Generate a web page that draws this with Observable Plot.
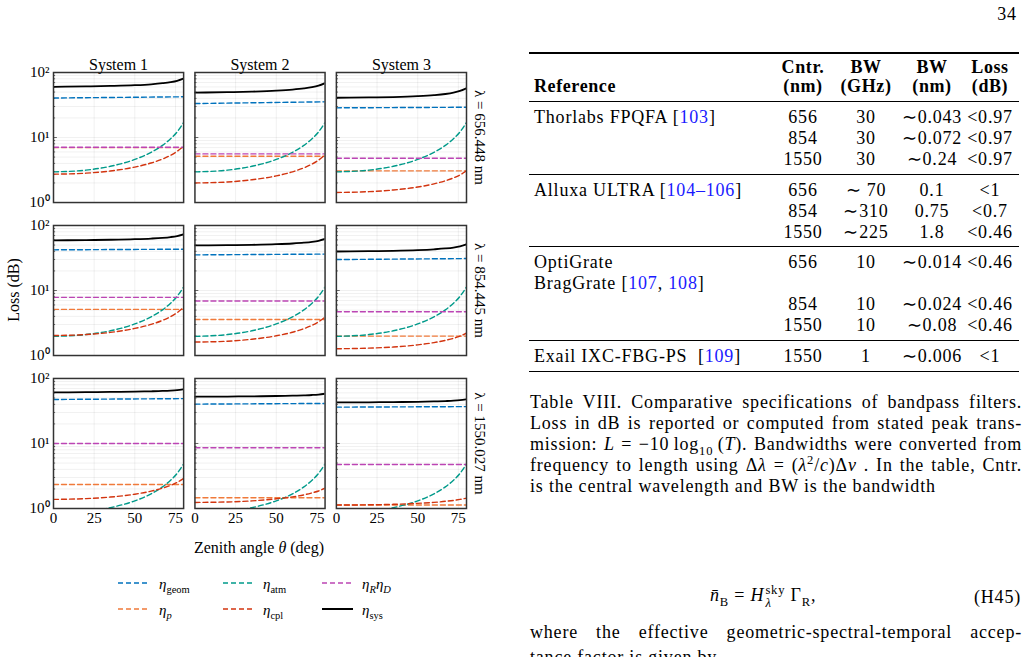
<!DOCTYPE html>
<html><head><meta charset="utf-8">
<script src="https://cdn.jsdelivr.net/npm/d3@7"></script>
<script src="https://cdn.jsdelivr.net/npm/@observablehq/plot@0.6"></script>
<style>
html,body{margin:0;padding:0;background:#fff;}
body{width:1027px;height:657px;overflow:hidden;position:relative;font-family:"Liberation Serif","Times New Roman",serif;color:#000;}
.a{position:absolute;white-space:nowrap;line-height:1;}
.pg{font-size:18px;letter-spacing:0.8px;}
.b{font-weight:bold;letter-spacing:0.6px;}
.cite{color:#1a1aff;}
.rule{position:absolute;left:529px;width:490px;background:#000;}
.jl{position:absolute;left:530px;white-space:nowrap;font-size:18px;letter-spacing:0.8px;line-height:20px;}
sub,sup{font-size:70%;line-height:0;}
.lg{font-size:15px;}
</style></head><body>
<div id="chart" style="position:absolute;left:0;top:0"></div>
<svg id="legend" style="position:absolute;left:0;top:0" width="500" height="657"></svg>
<script>
// ---------- chart data ----------
const systems = ["System 1", "System 2", "System 3"];
const wavelengths = ["λ = 656.448 nm", "λ = 854.445 nm", "λ = 1550.027 nm"];
const theta = [0, 20, 35, 50, 60, 67, 72, 76, 80];
const thetaFlat = [0, 80];
const xTicks = [0, 25, 50, 75];
const yTicks = [1, 10, 100];
const yTickLabels = ["10⁰", "10¹", "10²"];
const minorTicks = [2, 3, 4, 5, 6, 7, 8, 9, 20, 30, 40, 50, 60, 70, 80, 90];

// eta_atm (same for every system at a given wavelength)
const atm656  = [2.96, 3.15, 3.61, 4.60, 5.92, 7.58, 9.58, 12.2, 17.0];
const atm854  = [1.97, 2.10, 2.40, 3.06, 3.94, 5.04, 6.38, 8.14, 11.3];
const atm1550 = [0.84, 0.89, 1.03, 1.31, 1.68, 2.15, 2.72, 3.47, 4.84];

// eta_cpl  [System 1, System 2, System 3]
const cpl656  = [[2.73, 2.83, 3.06, 3.51, 4.05, 4.66, 5.33, 6.13, 7.40],
                 [2.00, 2.07, 2.24, 2.57, 2.97, 3.42, 3.91, 4.49, 5.43],
                 [1.43, 1.47, 1.56, 1.73, 1.94, 2.16, 2.39, 2.66, 3.07]];
const cpl854  = [[2.03, 2.10, 2.27, 2.61, 3.01, 3.47, 3.96, 4.56, 5.51],
                 [1.61, 1.66, 1.78, 2.01, 2.28, 2.59, 2.91, 3.30, 3.90],
                 [1.27, 1.30, 1.35, 1.46, 1.58, 1.71, 1.84, 1.99, 2.21]];
const cpl1550 = [[1.38, 1.42, 1.50, 1.66, 1.85, 2.06, 2.27, 2.52, 2.90],
                 [1.24, 1.26, 1.31, 1.41, 1.51, 1.62, 1.74, 1.86, 2.05],
                 [1.13, 1.14, 1.16, 1.20, 1.24, 1.29, 1.33, 1.38, 1.44]];

// eta_sys
const sys656  = [[60.3, 61.0, 62.1, 63.8, 65.9, 68.4, 71.1, 74.6, 80.8],
                 [49.0, 49.8, 50.8, 52.5, 54.5, 56.8, 59.4, 62.8, 68.6],
                 [40.9, 41.3, 41.9, 43.2, 44.8, 46.7, 49.0, 52.0, 57.2]];
const sys854  = [[59.2, 59.6, 60.3, 61.5, 62.9, 64.5, 66.4, 68.8, 73.0],
                 [49.4, 49.8, 50.4, 51.5, 52.8, 54.3, 56.0, 58.2, 62.0],
                 [39.8, 40.3, 40.8, 41.8, 43.0, 44.3, 45.8, 47.8, 51.3]];
const sys1550 = [[61.0, 61.5, 62.0, 62.7, 63.5, 64.3, 65.2, 66.3, 68.1],
                 [52.4, 52.7, 53.1, 53.7, 54.3, 55.0, 55.7, 56.6, 58.2],
                 [42.8, 43.0, 43.3, 43.8, 44.3, 44.9, 45.5, 46.4, 47.9]];

// eta_geom at theta = 0 and 80
const geom656  = [[40.5, 42.3], [33.3, 35.4], [28.6, 29.2]];
const geom854  = [[42.2, 43.2], [35.3, 36.3], [29.9, 31.0]];
const geom1550 = [[47.5, 49.0], [40.3, 41.3], [36.2, 36.9]];

// constant losses
const p656  = [7.0, 5.16, 3.07];
const p854  = [5.12, 3.59, 1.99];
const p1550 = [2.34, 1.46, 1.13];
const rd656  = [7.1, 5.6, 4.81];
const rd854  = [7.85, 6.89, 4.71];
const rd1550 = [10.0, 8.58, 4.75];

const seriesKeys = ["geom", "p", "atm", "cpl", "rd", "sys"];
const seriesColors = ["#0072BD", "#F07A3A", "#009A8A", "#D2340F", "#BC45B4", "#000000"];

// ---------- build table ----------
const atm = [atm656, atm854, atm1550];
const cpl = [cpl656, cpl854, cpl1550];
const sys = [sys656, sys854, sys1550];
const geom = [geom656, geom854, geom1550];
const pv = [p656, p854, p1550];
const rd = [rd656, rd854, rd1550];
const rows = [];
for (let w = 0; w < 3; w++) for (let s = 0; s < 3; s++) {
  const base = {wl: wavelengths[w], sys: systems[s]};
  thetaFlat.forEach((t, i) => rows.push({...base, series: "geom", theta: t, value: geom[w][s][i]}));
  thetaFlat.forEach(t => rows.push({...base, series: "p", theta: t, value: pv[w][s]}));
  theta.forEach((t, i) => rows.push({...base, series: "atm", theta: t, value: atm[w][i]}));
  theta.forEach((t, i) => rows.push({...base, series: "cpl", theta: t, value: cpl[w][s][i]}));
  thetaFlat.forEach(t => rows.push({...base, series: "rd", theta: t, value: rd[w][s]}));
  theta.forEach((t, i) => rows.push({...base, series: "sys", theta: t, value: sys[w][s][i]}));
}

const lineMarks = seriesKeys.map((k, i) => Plot.line(rows.filter(d => d.series === k), {
  x: "theta", y: "value", fx: "sys", fy: "wl",
  stroke: seriesColors[i],
  strokeWidth: k === "sys" ? 1.8 : 1.4,
  strokeDasharray: k === "sys" ? null : "5,3",
  curve: "monotone-x",
  clip: true
}));

const chart = Plot.plot({
  width: 500, height: 530,
  marginLeft: 53, marginRight: 34, marginTop: 72, marginBottom: 22,
  style: {fontFamily: "Liberation Serif, serif", fontSize: "15px", background: "transparent", color: "#000", overflow: "visible"},
  x: {domain: [0, 80], axis: null},
  y: {type: "log", domain: [1, 100], axis: null},
  fx: {domain: systems, paddingInner: 0.08, paddingOuter: 0, round: false, axis: null},
  fy: {domain: wavelengths, paddingInner: 0.15, paddingOuter: 0, round: false, axis: null},
  marks: [
    Plot.gridY(minorTicks.concat([10]), {stroke: "#000", strokeOpacity: 0.06}),
    Plot.gridX([25, 50, 75], {stroke: "#000", strokeOpacity: 0.06}),
    Plot.ruleY(minorTicks, {x1: 0, x2: 1.3, stroke: "#444", strokeWidth: 0.8}),
    Plot.ruleY([10], {x1: 0, x2: 2.4, stroke: "#444", strokeWidth: 0.8}),
    ...lineMarks,
    Plot.frame({stroke: "#333", strokeWidth: 1.5}),
    Plot.axisY(yTicks, {anchor: "left", tickSize: 0, tickPadding: 4, label: null, fontSize: 15,
      tickFormat: d => yTickLabels[yTicks.indexOf(d)]}),
    Plot.axisX(xTicks, {anchor: "bottom", tickSize: 0, tickPadding: 4, label: null, fontSize: 15}),
    Plot.axisFx({anchor: "top", tickSize: 0, tickPadding: 3, label: null, fontSize: 16}),
    Plot.axisFy({anchor: "right", tickSize: 0, tickPadding: 8, tickRotate: 90, textAnchor: "middle", lineAnchor: "bottom", label: null, fontSize: 15})
  ]
});
document.getElementById("chart").appendChild(chart);

// ---------- legend ----------
const legendItems = [
  {k: 0, html: '<i>η</i><sub>geom</sub>', x1: 118, x2: 150, tx: 159, y: 583},
  {k: 1, html: '<i>η</i><sub><i>p</i></sub>', x1: 118, x2: 150, tx: 159, y: 609},
  {k: 2, html: '<i>η</i><sub>atm</sub>', x1: 223, x2: 254, tx: 263, y: 583},
  {k: 3, html: '<i>η</i><sub>cpl</sub>', x1: 223, x2: 254, tx: 263, y: 609},
  {k: 4, html: '<i>η</i><sub><i>R</i></sub><i>η</i><sub><i>D</i></sub>', x1: 322, x2: 353, tx: 362, y: 583},
  {k: 5, html: '<i>η</i><sub>sys</sub>', x1: 322, x2: 353, tx: 362, y: 609}
];
const lsvg = d3.select("#legend");
legendItems.forEach(it => {
  lsvg.append("line").attr("x1", it.x1).attr("x2", it.x2).attr("y1", it.y).attr("y2", it.y)
    .attr("stroke", seriesColors[it.k]).attr("stroke-width", it.k === 5 ? 2 : 1.3)
    .attr("stroke-dasharray", it.k === 5 ? null : "5,3");
});

// ---------- helpers ----------
function put(html, x, y, anchor, cls, extra) {
  const d = document.createElement("div");
  d.className = "a " + (cls || "");
  d.innerHTML = html;
  d.style.left = x + "px"; d.style.top = y + "px";
  const tx = anchor === "c" ? "-50%" : anchor === "r" ? "-100%" : "0";
  d.style.transform = `translate(${tx},-50%)` + (extra || "");
  document.body.appendChild(d);
  return d;
}
function justLine(html, top, width) {
  const d = document.createElement("div"); d.className = "jl";
  d.innerHTML = html; d.style.top = top + "px";
  document.body.appendChild(d);
  const w = d.getBoundingClientRect().width;
  const n = (d.textContent.match(/ /g) || []).length;
  if (n > 0) d.style.wordSpacing = ((width - w) / n) + "px";
  return d;
}
legendItems.forEach(it => put(it.html, it.tx, it.y + 1, "l", "lg"));

// figure labels
put("Loss (dB)", 14, 290, "c", "", " rotate(-90deg)").style.fontSize = "16px";
put("Zenith angle <i>θ</i> (deg)", 259, 548, "c", "").style.fontSize = "16px";

// ---------- page text ----------
put("34", 1007, 14, "c", "pg");
function rule(y, h) {
  const d = document.createElement("div"); d.className = "rule";
  d.style.top = y + "px"; d.style.height = h + "px"; document.body.appendChild(d);
}
rule(52, 1.6); rule(100.5, 0.8); rule(173.8, 0.8); rule(245.8, 0.8); rule(340.2, 0.8); rule(370.8, 1.6);

const colX = [803, 866, 932, 990];
const headTop = ["Cntr.", "BW", "BW", "Loss"];
const headBot = ["(nm)", "(GHz)", "(nm)", "(dB)"];
headTop.forEach((h, i) => put(h, colX[i], 67, "c", "pg b"));
headBot.forEach((h, i) => put(h, colX[i], 86, "c", "pg b"));
put("Reference", 534, 86, "l", "pg b");

const tableRefs = [
  {y: 117, html: 'Thorlabs FPQFA [<span class="cite">103</span>]'},
  {y: 190, html: 'Alluxa ULTRA [<span class="cite">104–106</span>]'},
  {y: 262, html: 'OptiGrate'},
  {y: 283, html: 'BragGrate [<span class="cite">107</span>, <span class="cite">108</span>]'},
  {y: 356, html: 'Exail IXC-FBG-PS &nbsp;[<span class="cite">109</span>]'}
];
const tableCells = [
  {y: 117, v: ["656", "30", "∼0.043", "&lt;0.97"]},
  {y: 138, v: ["854", "30", "∼0.072", "&lt;0.97"]},
  {y: 159, v: ["1550", "30", "∼0.24", "&lt;0.97"]},
  {y: 190, v: ["656", "∼ 70", "0.1", "&lt;1"]},
  {y: 211, v: ["854", "∼310", "0.75", "&lt;0.7"]},
  {y: 232, v: ["1550", "∼225", "1.8", "&lt;0.46"]},
  {y: 262, v: ["656", "10", "∼0.014", "&lt;0.46"]},
  {y: 304, v: ["854", "10", "∼0.024", "&lt;0.46"]},
  {y: 325, v: ["1550", "10", "∼0.08", "&lt;0.46"]},
  {y: 356, v: ["1550", "1", "∼0.006", "&lt;1"]}
];
tableRefs.forEach(r => put(r.html, 534, r.y, "l", "pg"));
tableCells.forEach(r => r.v.forEach((v, i) => put(v, colX[i], r.y, "c", "pg")));

const captionLines = [
  "Table VIII. Comparative specifications of bandpass filters.",
  "Loss in dB is reported or computed from stated peak trans-",
  "mission: <i>L</i> = −10&#8201;log<sub>10</sub>&#8201;(<i>T</i>). Bandwidths were converted from",
  "frequency to length using Δ<i>λ</i> = (<i>λ</i><sup>2</sup>/<i>c</i>)Δ<i>ν</i> . In the table, Cntr."
];
captionLines.forEach((t, i) => justLine(t, 392 + i * 21, 492));
put("is the central wavelength and BW is the bandwidth", 530, 486, "l", "pg");

put('<i>n̄</i><sub>B</sub> = <i>H</i><span style="display:inline-block;vertical-align:middle;font-size:70%;line-height:1.05;text-align:left;margin-left:1px"><span style="display:block">sky</span><span style="display:block"><i>λ</i></span></span> Γ<sub>R</sub>,', 710, 597, "l", "pg");
put("(H45)", 1021, 597, "r", "pg");
justLine("where the effective geometric-spectral-temporal accep-", 622, 492);
put("tance factor is given by", 530, 657, "l", "pg");
</script>
</body></html>
